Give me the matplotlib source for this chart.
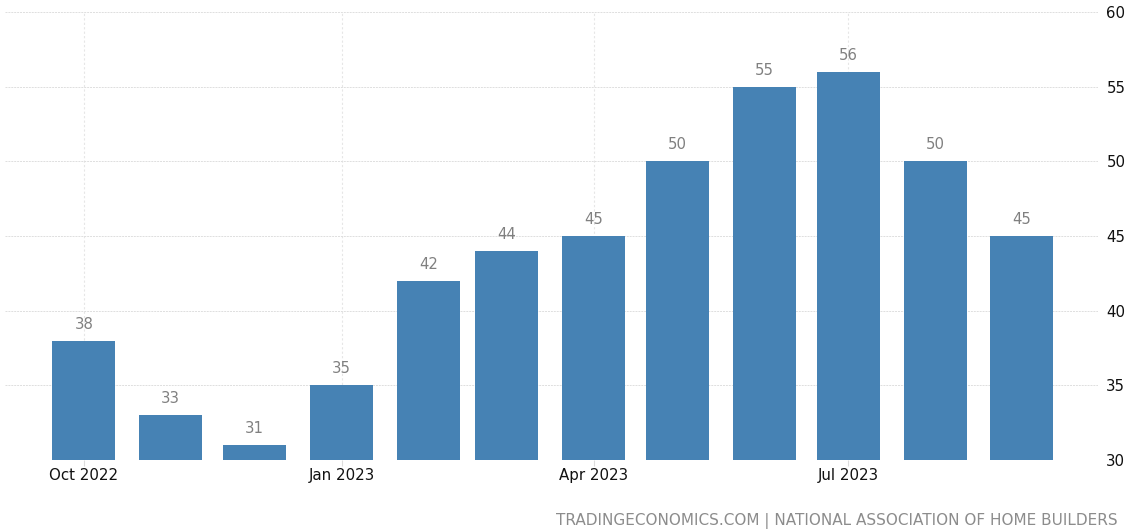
import matplotlib
matplotlib.use("Agg")
import matplotlib.pyplot as plt
import matplotlib.dates as mdates
import numpy as np
import datetime as dt

months = ["2022-10", "2022-11", "2022-12", "2023-01", "2023-02", "2023-03",
          "2023-04", "2023-05", "2023-06", "2023-07", "2023-08", "2023-09"]
values = [38, 33, 31, 35, 42, 44, 45, 50, 55, 56, 50, 45]
tick_months = ["2022-10", "2023-01", "2023-04", "2023-07"]
tick_labels = ["Oct 2022", "Jan 2023", "Apr 2023", "Jul 2023"]
yticks = [30, 35, 40, 45, 50, 55, 60]

def to_num(m):
    y, mo = m.split("-")
    return mdates.date2num(dt.date(int(y), int(mo), 1))

x = np.array([to_num(m) for m in months])

plt.rcParams['font.family'] = ['DejaVu Sans']
fig = plt.figure(figsize=(11.26, 5.31), dpi=100)
ax = fig.add_axes([5/1126, 1 - 460/531, (1098-5)/1126, (460-12)/531])

ax.bar(x, [v - 30 for v in values], bottom=30, width=22.5, color="#4682b4",
       zorder=3)
for xi, v in zip(x, values):
    ax.text(xi, v + 0.6, str(v), ha="center", va="bottom", fontsize=10.7,
            color="#808080", zorder=4)

x0 = to_num("2022-10") - 28.2
ax.set_xlim(x0, x0 + (1098 - 5) / 2.8)
ax.set_ylim(30, 60)

ax.set_xticks([to_num(m) for m in tick_months])
ax.set_xticklabels(tick_labels, fontsize=10.8, color="#111111")
ax.set_yticks(yticks)
ax.set_yticklabels([str(t) for t in yticks], fontsize=10.8, color="#111111")
ax.yaxis.tick_right()
ax.tick_params(axis="y", length=0, pad=6)
ax.tick_params(axis="x", length=4, color="#dddddd", pad=2)

for s in ax.spines.values():
    s.set_visible(False)
ax.grid(axis="y", color="#dedede", linestyle=(0, (2, 1)), linewidth=0.7, zorder=0)
ax.grid(axis="x", color="#e6e6e6", linestyle=(0, (2, 2)), linewidth=0.8, zorder=0)

fig.text(1118/1126, 1 - 521/531, "TRADINGECONOMICS.COM | NATIONAL ASSOCIATION OF HOME BUILDERS",
         ha="right", va="center", fontsize=11, color="#8c8c8c")

fig.savefig("out.png", dpi=100)
